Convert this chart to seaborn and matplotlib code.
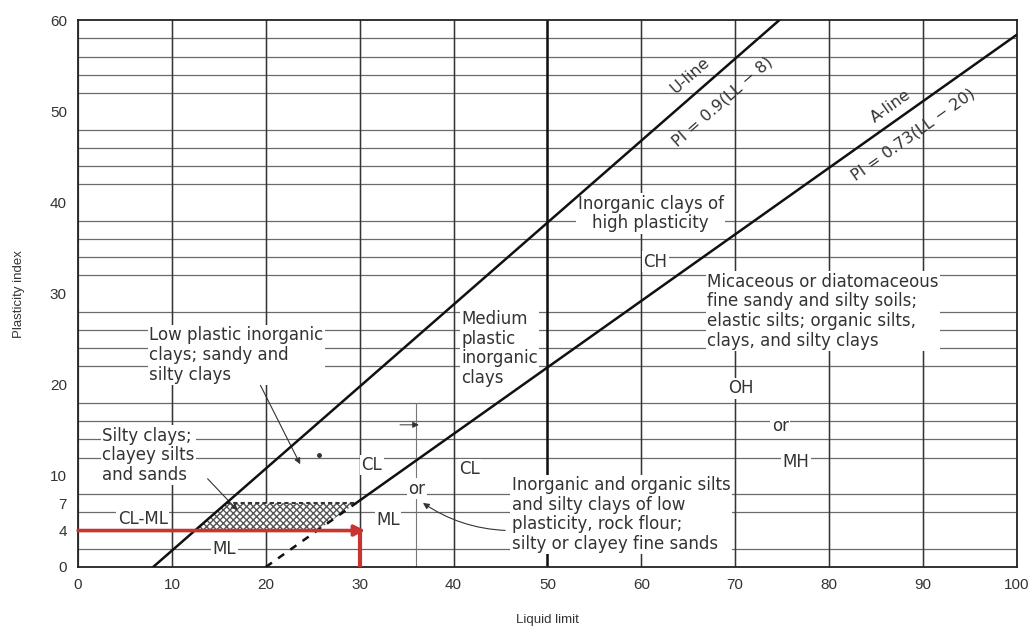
import matplotlib
matplotlib.use("Agg")
import matplotlib.pyplot as plt
import seaborn as sns
import numpy as np

# Plasticity chart (Casagrande) for fine-grained soil classification
ll_ticks = [0, 10, 20, 30, 40, 50, 60, 70, 80, 90, 100]
pi_ticks = [0, 4, 7, 10, 20, 30, 40, 50, 60]

# U-line: PI = 0.9(LL - 8)
u_line_ll = [8.0, 74.7]
u_line_pi = [0.0, 60.0]
# A-line: PI = 0.73(LL - 20); dashed below PI = 7
a_solid_ll = [29.6, 100.0]
a_solid_pi = [7.0, 58.4]
a_dash_ll = [20.0, 29.6]
a_dash_pi = [0.0, 7.0]
# CL-ML band between PI 4 and 7
band_ll = [12.4, 15.8, 29.6, 25.5]
band_pi = [4.0, 7.0, 7.0, 4.0]
# Sample point: LL = 30, PI = 4
sample_ll = 30.0
sample_pi = 4.0

sns.set_theme(style="white")
plt.rcParams["font.family"] = ["Liberation Sans", "DejaVu Sans"]

fig = plt.figure(figsize=(10.35, 6.3), dpi=100)
ax = fig.add_axes([0.0754, 0.1, 0.907, 0.868])

grid_c = "#6a6a6a"
ax.set_xlim(0, 100)
ax.set_ylim(0, 60)
ax.set_xticks(ll_ticks)
ax.set_yticks(pi_ticks)
ax.set_yticks(np.arange(0, 61, 2), minor=True)
ax.tick_params(axis="both", which="both", length=0, labelsize=11, colors="#333333", pad=8)
ax.grid(which="minor", axis="y", color=grid_c, lw=0.9)
ax.grid(which="major", axis="x", color=grid_c, lw=0.9)
ax.grid(which="major", axis="y", visible=False)
for v in [10, 20, 30, 40, 60, 70, 80, 90]:
    ax.axvline(v, color="#333333", lw=1.0, zorder=1)
ax.axvline(50, color="#111111", lw=1.8, zorder=1)
ax.plot([36, 36], [0, 18], color="#777777", lw=0.8, zorder=1)
for s in ax.spines.values():
    s.set_color("#222222")
    s.set_linewidth(1.3)

ax.set_xlabel("Liquid limit", fontsize=9.5, color="#333333", labelpad=16)
ax.set_ylabel("Plasticity index", fontsize=9.5, color="#333333", labelpad=18)

# U-line and A-line
sns.lineplot(x=u_line_ll, y=u_line_pi, ax=ax, color="#111111", lw=1.8, zorder=7)
sns.lineplot(x=a_solid_ll, y=a_solid_pi, ax=ax, color="#111111", lw=1.8, zorder=7)
ax.plot(a_dash_ll, a_dash_pi, color="#111111", lw=1.8, ls=(0, (3, 3)), zorder=7)

# Hatched CL-ML zone
ax.fill(band_ll, band_pi, facecolor="white", edgecolor="#555555", hatch="xxxxx",
        lw=0.0, zorder=3)
ax.plot([band_ll[1], band_ll[2]], [band_pi[1], band_pi[2]], color="#333333", lw=1.5,
        ls=(0, (2, 1.5)), zorder=4)

# Line labels along the slopes
def slope_angle(x0, y0, x1, y1):
    p0 = ax.transData.transform((x0, y0))
    p1 = ax.transData.transform((x1, y1))
    return np.degrees(np.arctan2(p1[1] - p0[1], p1[0] - p0[0]))

fig.canvas.draw()
u_ang = slope_angle(u_line_ll[0], u_line_pi[0], u_line_ll[1], u_line_pi[1])
a_ang = slope_angle(a_solid_ll[0], a_solid_pi[0], a_solid_ll[1], a_solid_pi[1])
lab = dict(fontsize=11.5, color="#333333", ha="center", va="center", zorder=5,
           family=["DejaVu Sans"])
ax.text(65.2, 53.9, "U-line", rotation=u_ang, **lab)
ax.text(68.6, 51.0, "PI = 0.9(LL − 8)", rotation=u_ang, **lab)
ax.text(86.6, 50.6, "A-line", rotation=a_ang, **lab)
ax.text(89.0, 47.4, "PI = 0.73(LL − 20)", rotation=a_ang, **lab)

# Zone descriptions
box = dict(facecolor="white", edgecolor="none", pad=1.0)
txt = dict(fontsize=12, color="#333333", linespacing=1.12, zorder=5, bbox=box,
           family=["DejaVu Sans"])
ax.text(61.0, 38.8, "Inorganic clays of\nhigh plasticity", ha="center", va="center", **txt)
ax.text(61.5, 33.5, "CH", ha="center", va="center", **txt)
ax.text(67.0, 32.3, "Micaceous or diatomaceous\nfine sandy and silty soils;\n"
        "elastic silts; organic silts,\nclays, and silty clays", ha="left", va="top", **txt)
ax.text(70.6, 19.6, "OH", ha="center", va="center", **txt)
ax.text(74.8, 15.5, "or", ha="center", va="center", **txt)
ax.text(76.5, 11.5, "MH", ha="center", va="center", **txt)
ax.text(40.8, 28.2, "Medium\nplastic\ninorganic\nclays", ha="left", va="top", **txt)
ax.text(7.6, 26.4, "Low plastic inorganic\nclays; sandy and\nsilty clays", ha="left", va="top", **txt)
ax.text(2.6, 15.4, "Silty clays;\nclayey silts\nand sands", ha="left", va="top", **txt)
ax.text(6.9, 5.3, "CL-ML", ha="center", va="center", **txt)
ax.text(15.6, 2.0, "ML", ha="center", va="center", **txt)
ax.text(31.3, 11.2, "CL", ha="center", va="center", **txt)
ax.text(41.7, 10.7, "CL", ha="center", va="center", **txt)
ax.text(36.1, 8.6, "or", ha="center", va="center", **txt)
ax.text(33.0, 5.2, "ML", ha="center", va="center", **txt)
ax.text(46.2, 10.0, "Inorganic and organic silts\nand silty clays of low\n"
        "plasticity, rock flour;\nsilty or clayey fine sands", ha="left", va="top", **txt)

# Leaders from descriptions to zones
lead = dict(arrowstyle="-|>", color="#333333", lw=0.8, mutation_scale=9)
ax.annotate("", xy=(23.8, 11.0), xytext=(19.3, 20.2), arrowprops=lead, zorder=5)
ax.plot([25.7], [12.3], marker="o", ms=2.5, color="#333333", zorder=5)
ax.annotate("", xy=(17.2, 6.0), xytext=(13.6, 9.9), arrowprops=lead, zorder=5)
ax.annotate("", xy=(36.5, 7.2), xytext=(45.8, 4.0),
            arrowprops=dict(lead, connectionstyle="arc3,rad=-0.15"), zorder=6)
ax.annotate("", xy=(36.6, 15.6), xytext=(34.0, 15.6),
            arrowprops=dict(lead, lw=0.7), zorder=5)

# Sample reading at PI = 4 down to LL = 30
red = "#c8342f"
ax.annotate("", xy=(sample_ll + 0.6, sample_pi), xytext=(0, sample_pi),
            arrowprops=dict(arrowstyle="-|>", color=red, lw=2.6, mutation_scale=16,
                            shrinkA=0, shrinkB=0), zorder=8)
ax.plot([sample_ll, sample_ll], [0, sample_pi], color=red, lw=3.0, zorder=8,
        solid_capstyle="butt")

fig.savefig("out.png", dpi=100)
